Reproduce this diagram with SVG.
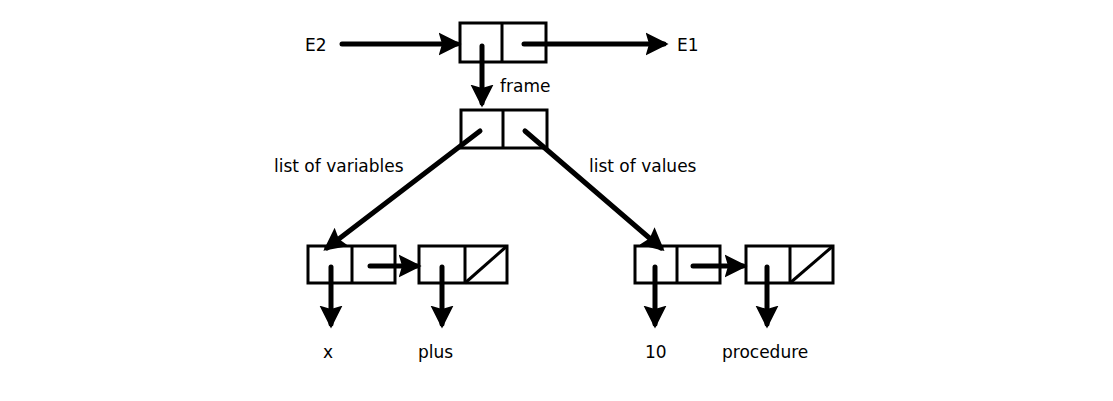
<svg xmlns="http://www.w3.org/2000/svg" width="1113" height="401" viewBox="0 0 1113 401">
<style>
.box{fill:none;stroke:#000;stroke-width:3}
.conn{fill:none;stroke:#000;stroke-width:5;stroke-linecap:round}
text{font-family:"DejaVu Sans","Liberation Sans",sans-serif;font-size:17px;fill:#000}
</style>
<defs>
<marker id="ah" viewBox="0 0 10 10" refX="8" refY="5" markerWidth="4.6" markerHeight="5.2" orient="auto" markerUnits="strokeWidth">
<path d="M0,0 L10,5 L0,10 L1.5,5 Z" fill="#000"/>
</marker>
</defs>
<rect width="1113" height="401" fill="#fff"/>
<g id="env">
<rect class="box" x="460" y="23" width="86" height="39"/>
<line class="box" x1="502" y1="23" x2="502" y2="62"/>
</g>
<g id="frame">
<rect class="box" x="461" y="110" width="86" height="38"/>
<line class="box" x1="503" y1="110" x2="503" y2="148"/>
</g>
<g id="var1">
<rect class="box" x="308" y="246" width="87" height="37"/>
<line class="box" x1="352" y1="246" x2="352" y2="283"/>
</g>
<g id="var2">
<rect class="box" x="419" y="246" width="88" height="37"/>
<line class="box" x1="465" y1="246" x2="465" y2="283"/>
<line class="box" x1="465" y1="283" x2="507" y2="246"/>
</g>
<g id="val1">
<rect class="box" x="635" y="246" width="85" height="37"/>
<line class="box" x1="677" y1="246" x2="677" y2="283"/>
</g>
<g id="val2">
<rect class="box" x="746" y="246" width="87" height="37"/>
<line class="box" x1="790" y1="246" x2="790" y2="283"/>
<line class="box" x1="790" y1="283" x2="833" y2="246"/>
</g>
<g id="connectors">
<line class="conn" x1="342" y1="44" x2="457" y2="44" marker-end="url(#ah)"/>
<line class="conn" x1="524" y1="44" x2="664" y2="44" marker-end="url(#ah)"/>
<line class="conn" x1="482" y1="46" x2="482" y2="103" marker-end="url(#ah)"/>
<line class="conn" x1="480" y1="131" x2="327" y2="248" marker-end="url(#ah)"/>
<line class="conn" x1="525" y1="131" x2="661" y2="248" marker-end="url(#ah)"/>
<line class="conn" x1="331" y1="267" x2="331" y2="324" marker-end="url(#ah)"/>
<line class="conn" x1="370" y1="266" x2="417" y2="266" marker-end="url(#ah)"/>
<line class="conn" x1="442" y1="267" x2="442" y2="324" marker-end="url(#ah)"/>
<line class="conn" x1="655" y1="267" x2="655" y2="324" marker-end="url(#ah)"/>
<line class="conn" x1="693" y1="266" x2="743" y2="266" marker-end="url(#ah)"/>
<line class="conn" x1="767" y1="267" x2="767" y2="324" marker-end="url(#ah)"/>
</g>
<g id="labels">
<text x="305" y="51">E2</text>
<text x="677" y="51">E1</text>
<text x="500" y="92">frame</text>
<text x="274" y="172">list of variables</text>
<text x="589" y="172">list of values</text>
<text x="323" y="358">x</text>
<text x="418" y="358">plus</text>
<text x="645" y="358">10</text>
<text x="722" y="358">procedure</text>
</g>
</svg>
